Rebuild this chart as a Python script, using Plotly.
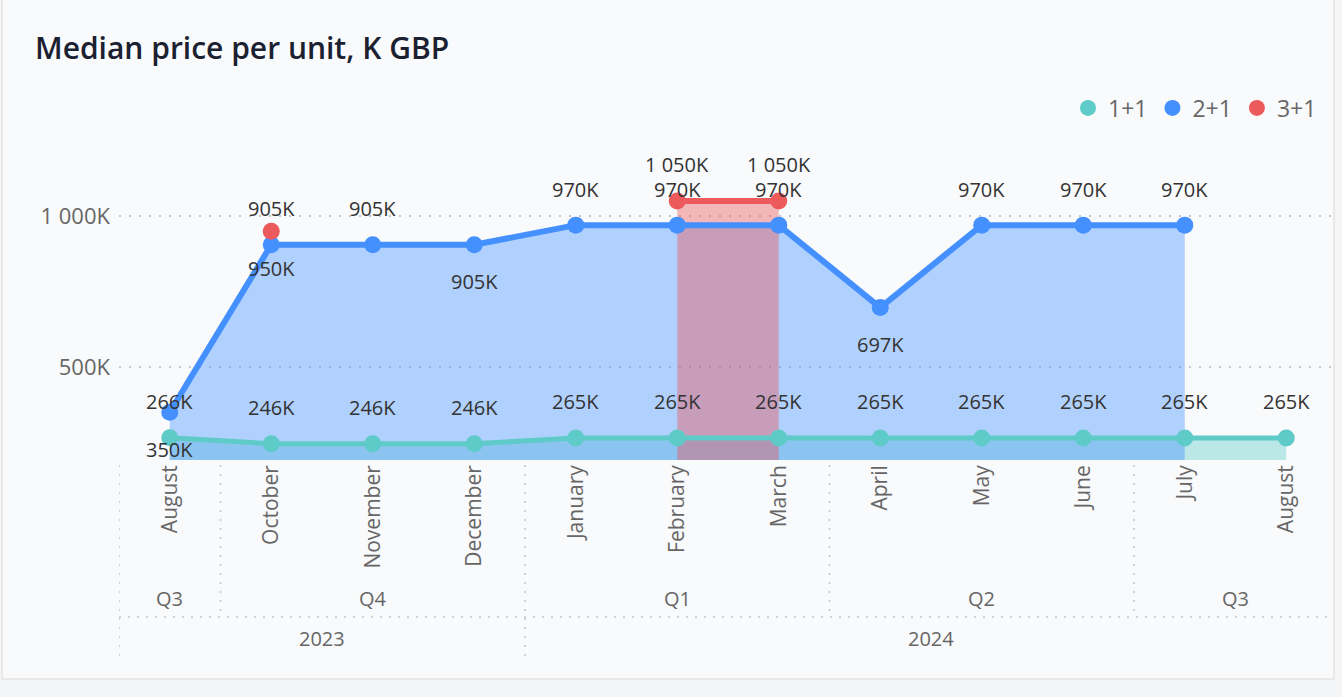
import plotly.graph_objects as go

# ---------------- data ----------------
months = ["August", "October", "November", "December", "January", "February",
          "March", "April", "May", "June", "July", "August"]
quarters = ["Q3", "Q4", "Q4", "Q4", "Q1", "Q1", "Q1", "Q2", "Q2", "Q2", "Q3", "Q3"]
years = ["2023", "2023", "2023", "2023", "2024", "2024", "2024", "2024",
         "2024", "2024", "2024", "2024"]

series_names = ["1+1", "2+1", "3+1"]
s_11 = [266, 246, 246, 246, 265, 265, 265, 265, 265, 265, 265, 265]
s_21 = [350, 905, 905, 905, 970, 970, 970, 697, 970, 970, 970, None]
s_31 = [None, 950, None, None, None, 1050, 1050, None, None, None, None, None]

y_tick_vals = [500, 1000]
y_tick_text = ["500K", "1 000K"]

# label placement (above / below point), per series
pos_11 = ["above"] * 12
pos_21 = ["below", "above", "above", "below", "above", "above", "above",
          "below", "above", "above", "above", None]
pos_31 = [None, "below", None, None, None, "above", "above",
          None, None, None, None, None]

# ---------------- styles ----------------
FONT = "Open Sans"
LINE_COLORS = ["#5ECBC8", "#4490FF", "#EC5A5C"]
FILL_COLORS = ["rgba(94,203,200,0.4)", "rgba(68,144,255,0.4)", "rgba(236,80,84,0.4)"]
LABEL_COLOR = "#333333"
AXIS_COLOR = "#666666"
SEP_COLOR = "#C4C4C4"

x_idx = list(range(len(months)))
fig = go.Figure()

all_series = [s_11, s_21, s_31]
all_pos = [pos_11, pos_21, pos_31]
line_w = [5, 6, 6]


def segments(vals):
    """contiguous runs of non-missing values -> list of (xs, ys)"""
    segs, cur = [], []
    for i, v in enumerate(vals):
        if v is None:
            if cur:
                segs.append(cur)
            cur = []
        else:
            cur.append((i, v))
    if cur:
        segs.append(cur)
    return [([p[0] for p in s], [p[1] for p in s]) for s in segs]


# area fills first (below all lines)
for name, vals, fc in zip(series_names, all_series, FILL_COLORS):
    for xs, ys in segments(vals):
        if len(xs) > 1:
            fig.add_trace(go.Scatter(x=xs, y=ys, mode="none", fill="tozeroy",
                                     fillcolor=fc, showlegend=False, hoverinfo="skip"))

# lines and markers on top
for name, vals, lc, lw in zip(series_names, all_series, LINE_COLORS, line_w):
    for xs, ys in segments(vals):
        fig.add_trace(go.Scatter(
            x=xs, y=ys, mode="lines+markers", name=name,
            line=dict(color=lc, width=lw), marker=dict(color=lc, size=17),
            showlegend=False, hoverinfo="skip"))

# legend-only dummy traces (circle markers)
for name, lc in zip(series_names, LINE_COLORS):
    fig.add_trace(go.Scatter(x=[None], y=[None], mode="markers", name=name,
                             marker=dict(color=lc, size=20), showlegend=True))


def fmt(v):
    return f"{v:,}".replace(",", " ") + "K"


annotations = []
for vals, poss in zip(all_series, all_pos):
    for i, (v, p) in enumerate(zip(vals, poss)):
        if v is None or p is None:
            continue
        annotations.append(dict(
            x=i, y=v, xref="x", yref="y", text=fmt(v), showarrow=False,
            yshift=36 if p == "above" else -37,
            font=dict(family=FONT, size=20, color=LABEL_COLOR)))


def runs(labels, parent=None):
    out, start = [], 0
    for i in range(1, len(labels) + 1):
        if (i == len(labels) or labels[i] != labels[start]
                or (parent is not None and parent[i] != parent[start])):
            out.append((labels[start], start, i - 1))
            start = i
    return out


PLOT_H = 320.0


def py(px_below):  # pixels below plot bottom -> paper y
    return -px_below / PLOT_H


q_runs = runs(quarters, years)
y_runs = runs(years)
shapes = []
for lab, a, b in q_runs:
    annotations.append(dict(x=(a + b) / 2, y=py(138), xref="x", yref="paper",
                            text=lab, showarrow=False, yanchor="middle",
                            font=dict(family=FONT, size=20, color=AXIS_COLOR)))
for lab, a, b in y_runs:
    annotations.append(dict(x=(a + b) / 2, y=py(178), xref="x", yref="paper",
                            text=lab, showarrow=False, yanchor="middle",
                            font=dict(family=FONT, size=20, color=AXIS_COLOR)))

dot = dict(color=SEP_COLOR, width=1.5, dash="2px,7px")
year_starts = [a for _, a, _ in y_runs]
for lab, a, b in q_runs:
    x0 = a - 0.5
    bottom = 197 if a in year_starts else 157
    shapes.append(dict(type="line", xref="x", yref="paper", x0=x0, x1=x0,
                       y0=py(5), y1=py(bottom), line=dot))
shapes.append(dict(type="line", xref="x", yref="paper", x0=-0.5, x1=len(months) - 0.6,
                   y0=py(157), y1=py(157), line=dot))

# card background
shapes.insert(0, dict(type="rect", xref="paper", yref="paper", layer="below",
                      x0=-117 / 1218, x1=(1334 - 119) / 1218,
                      y0=py(679 - 460), y1=1 + 200 / PLOT_H,
                      fillcolor="#F9FAFC", line=dict(color="#E3E3E3", width=1.5)))

fig.update_layout(
    width=1342, height=697,
    margin=dict(l=119, r=5, t=140, b=237),
    paper_bgcolor="#F4F5F7", plot_bgcolor="rgba(0,0,0,0)",
    title=dict(text="Median price per unit, K GBP", x=35 / 1342, xanchor="left",
               y=1 - 48 / 697, yanchor="middle",
               font=dict(family=FONT, size=30, weight=600, color="#1B2130")),
    font=dict(family=FONT, color=AXIS_COLOR),
    legend=dict(orientation="h", x=(1322 - 119) / 1218, xanchor="right",
                y=(460 - 108) / PLOT_H, yanchor="middle",
                font=dict(family=FONT, size=23, color=AXIS_COLOR),
                bgcolor="rgba(0,0,0,0)", itemwidth=30, tracegroupgap=0),
    annotations=annotations, shapes=shapes, showlegend=True,
)

fig.update_xaxes(range=[-0.5, len(months) - 0.5], tickvals=x_idx, ticktext=months,
                 tickangle=-90, showgrid=False, zeroline=False, showline=False,
                 tickfont=dict(family=FONT, size=21, color=AXIS_COLOR), ticks="",
                 fixedrange=True)
fig.update_yaxes(range=[192, 1252], tickvals=y_tick_vals, ticktext=y_tick_text,
                 showgrid=True, gridcolor="#C8C8C8", gridwidth=1.5, griddash="2px,8px",
                 zeroline=False, showline=False, ticks="", ticklabelstandoff=8,
                 tickfont=dict(family=FONT, size=22, color=AXIS_COLOR), fixedrange=True)

fig.write_html("out.html", config={"displayModeBar": False},
               post_script="document.body.style.margin='0';")
